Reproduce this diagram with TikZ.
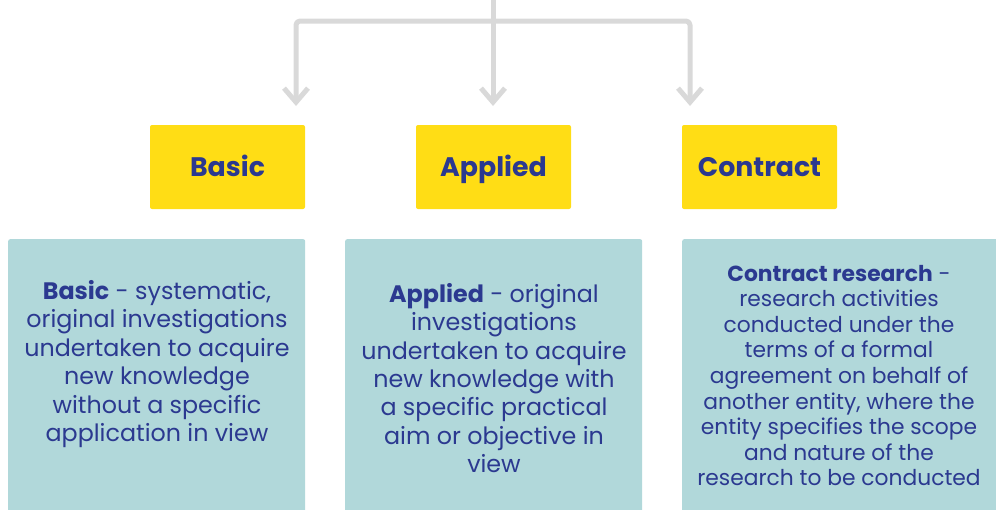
\documentclass[tikz,border=0pt]{standalone}
\usepackage{fontspec}
\setmainfont{Poppins}
\usetikzlibrary{arrows.meta}
\definecolor{ylw}{HTML}{FFDD15}
\definecolor{teal}{HTML}{B1D8DA}
\definecolor{navy}{HTML}{2B3990}
\definecolor{lgray}{HTML}{D9D9D9}
\tikzset{
  headbox/.style={fill=ylw, rounded corners=2pt, minimum width=155pt, minimum height=84pt, inner sep=0pt,
     text height=18.8pt, text depth=0pt,
     text=navy, font=\fontsize{26.8}{30}\selectfont\bfseries},
  descbox/.style={fill=teal, rounded corners=2pt, inner sep=0pt, anchor=north west},
  desctext/.style={text=navy, align=center, inner sep=0pt, font=\fontsize{23.8}{28.4}\selectfont},
  conn/.style={draw=lgray, line width=5pt, line cap=round, line join=round, rounded corners=4pt,
     -{Straight Barb[length=14pt,width=24pt,line width=5pt]}}
}
\begin{document}
\begin{tikzpicture}[x=1pt,y=-1pt]
\useasboundingbox (0,0) rectangle (996,509);
% heading boxes
\node[headbox] (basic) at (227.5,167) {Basic};
\node[headbox] (applied) at (493.5,167) {Applied};
\node[headbox] (contract) at (759.5,167) {Contract};
% description boxes
\node[descbox, minimum width=297pt, minimum height=280pt] (bbox) at (8,239) {};
\node[descbox, minimum width=297pt, minimum height=280pt] (abox) at (345,239) {};
\node[descbox, minimum width=320pt, minimum height=280pt] (cbox) at (682,239) {};
\node[desctext] (btext) at (157,364) {\textbf{Basic} - systematic,\\original investigations\\undertaken to acquire\\new knowledge\\without a specific\\application in view};
\node[desctext] (atext) at (494,378) {\textbf{Applied} - original\\investigations\\undertaken to acquire\\new knowledge with\\a specific practical\\aim or objective in\\view};
\node[desctext, font=\fontsize{21.8}{25.6}\selectfont] (ctext) at (839,375.5) {\textbf{Contract research} -\\research activities\\conducted under the\\terms of a formal\\agreement on behalf of\\another entity, where the\\entity specifies the scope\\and nature of the\\research to be conducted};
% connectors
\coordinate (top) at (493,-6);
\coordinate (hub) at (493,21);
\coordinate (bt) at (296,106);
\coordinate (at) at (493,106);
\coordinate (ct) at (690,106);
\draw[conn] (top) -- (at);
\draw[conn] (hub) -| (bt);
\draw[conn] (hub) -| (ct);
\end{tikzpicture}
\end{document}
